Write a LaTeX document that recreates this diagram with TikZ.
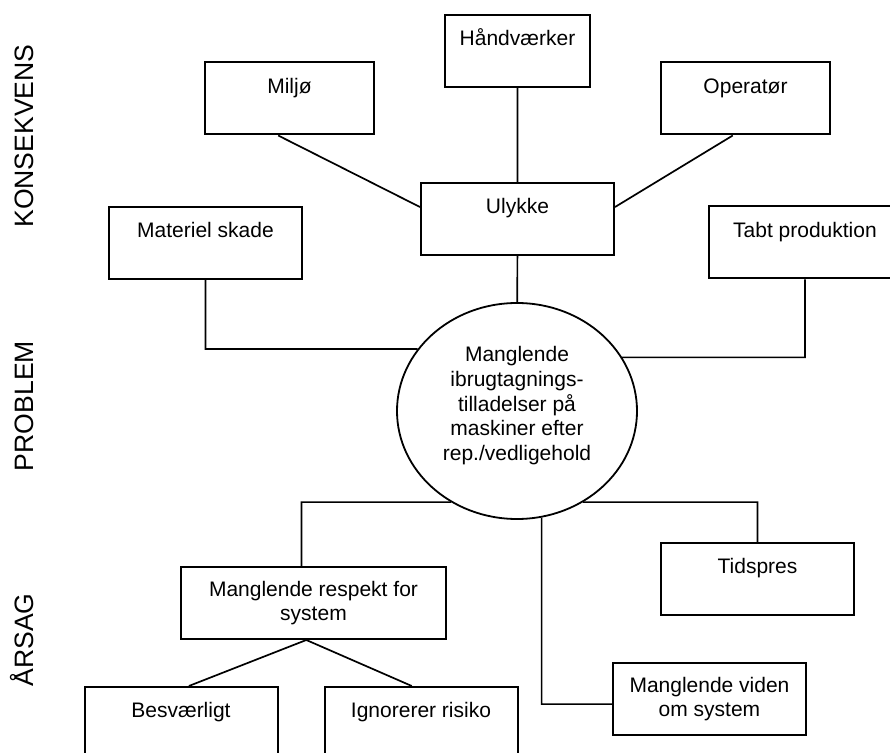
\documentclass[tikz,border=0pt]{standalone}
\usepackage{fontspec}
\setmainfont{Liberation Sans}
\usetikzlibrary{shapes.geometric}
\newcommand{\boxfont}{\fontsize{10.5}{12}\selectfont}
\tikzstyle{b}=[draw,line width=1pt,minimum width=96.5pt,minimum height=36pt,align=center,font=\boxfont]
\tikzstyle{t}=[b,text height=8pt,text depth=13pt]
\tikzstyle{side}=[rotate=90,font=\fontsize{13.3}{16}\selectfont,text height=9.5pt,text depth=0pt]
\tikzstyle{c}=[line width=0.85pt]

\begin{document}
\begin{tikzpicture}[x=0.5pt,y=-0.5pt]
    \useasboundingbox (0,0) rectangle (890,753);
    \clip (0,0) rectangle (890,753);

                        \node[side] (kons) at (24,136) {KONSEKVENS};
                        \node[side] (prob) at (24,406) {PROBLEM};
                        \node[side] (aars) at (24,640) {ÅRSAG};

                        \node[t,minimum width=72.5pt] (hv) at (517.5,51) {Håndværker};
                        \node[t,minimum width=84.5pt] (milj) at (289.5,98.5) {Miljø};
                        \node[t,minimum width=84.5pt] (oper) at (745.5,98.5) {Operatør};
                        \node[t] (ulyk) at (517.5,219) {Ulykke};
                        \node[t] (mat) at (205.5,243) {Materiel skade};
                        \node[t] (tabt) at (805,242.5) {Tabt produktion};

                        \node[draw,ellipse,line width=0.9pt,minimum width=120pt,minimum height=108pt,inner sep=0,
                              align=center,font=\fontsize{10.5}{12.3}\selectfont,text depth=7.5pt] (prb) at (517,411)
                              {Manglende\\ibrugtagnings-\\tilladelser på\\maskiner efter\\rep./vedligehold};

                        \node[b,minimum width=132.5pt] (resp) at (313.5,603) {Manglende respekt for\\system};
                        \node[t] (tid) at (757.5,579) {Tidspres};
                        \node[b] (vid) at (709.5,699) {Manglende viden\\om system};
                        \node[t] (besv) at (181,723) {Besværligt};
                        \node[t] (ign) at (421,723) {Ignorerer risiko};

                        \draw[c]
                        (hv) -- (ulyk)
                        (milj.-107) -- (ulyk.173)
                        (oper.-109) -- (ulyk.7)
                        (ulyk) -- (prb)

                        (mat.south) |- (prb.148)
                        (tabt.south) |- (prb.27)

                        (prb.-126) -| (resp.108)
                        (prb.-54) -| (tid.north)
                        (prb.-77) |- (vid.183)

                        (resp.-101) -- (besv.78)
                        (resp.-101) -- (ign.104)
                        ;

    \end{tikzpicture}
\end{document}
